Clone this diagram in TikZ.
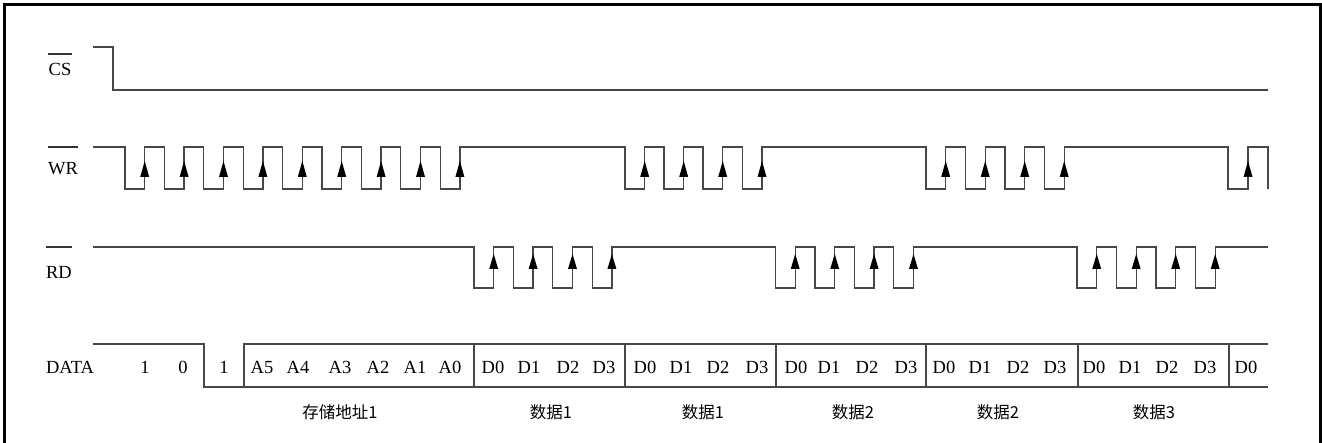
\documentclass[tikz,border=0pt]{standalone}
\usepackage{fontspec}
\setmainfont{Liberation Serif}
\newfontfamily\cjk{Noto Sans CJK SC}
\begin{document}
\begin{tikzpicture}[x=1pt,y=-1pt,
  wave/.style={draw=black!72,line width=1.3pt,line join=miter},
  frame/.style={draw=black,line width=3pt,line join=miter},
  lbl/.style={inner sep=0pt,font=\fontsize{18.5}{20}\selectfont},
  sig/.style={inner sep=0pt,font=\fontsize{18.5}{20}\selectfont},
  cn/.style={inner sep=0pt,font=\cjk\fontsize{16.5}{18}\selectfont},
  ovl/.style={draw=black!80,line width=1.1pt},
  tipfill/.style={fill=black}]
\useasboundingbox (0,0) rectangle (1322,443);
\fill[white] (0,0) rectangle (1322,443);
% frame
\draw[frame] (4,445) -- (4,5) -- (1320,5) -- (1320,445);

% signal names
\node[sig] (cs) at (60,69) {CS};
\node[sig] (wr) at (63,169) {WR};
\node[sig] (rd) at (59,272) {RD};
\node[sig] (data) at (70,367) {DATA};
\draw[ovl] (cs.west |- 0,54) -- (cs.east |- 0,54);
\draw[ovl] (wr.west |- 0,147) -- (wr.east |- 0,147);
\draw[ovl] (rd.west |- 0,247) -- (rd.east |- 0,247);

% CS
\draw[wave] (93,47) -- (113,47) -- (113,90) -- (1268,90);

% WR
\draw[wave] (93,147)
  foreach \f in {125,164.4,203.8,243.2,282.6,322,361.4,400.8,440.2}
    { -- (\f,147) -- (\f,189) -- (\f+19.7,189) -- (\f+19.7,147) }
  foreach \f in {625,664,703,742.3}
    { -- (\f,147) -- (\f,189) -- (\f+19.7,189) -- (\f+19.7,147) }
  foreach \f in {926,965.5,1005,1044.5}
    { -- (\f,147) -- (\f,189) -- (\f+19.7,189) -- (\f+19.7,147) }
  -- (1228,147) -- (1228,189) -- (1248,189) -- (1248,147) -- (1268,147) -- (1268,189);
\foreach \r in {144.7,184.1,223.5,262.9,302.3,341.7,381.1,420.5,459.9,
                644.7,683.7,722.7,762,945.7,985.2,1024.7,1064.2,1248}
  \fill[tipfill] (\r-4.5,177) -- (\r,161) -- (\r+4.5,177) -- cycle;

% RD
\draw[wave] (93,247)
  foreach \f in {474,513.4,552.8,592.2}
    { -- (\f,247) -- (\f,288) -- (\f+19.7,288) -- (\f+19.7,247) }
  foreach \f in {775.5,815,854.4,893.8}
    { -- (\f,247) -- (\f,288) -- (\f+19.7,288) -- (\f+19.7,247) }
  foreach \f in {1077,1116.5,1156,1195.5}
    { -- (\f,247) -- (\f,288) -- (\f+19.7,288) -- (\f+19.7,247) }
  -- (1268,247);
\foreach \r in {493.7,533.1,572.5,611.9,795.2,834.7,874.1,913.5,1096.7,1136.2,1175.7,1215.2}
  \fill[tipfill] (\r-4.5,269) -- (\r,254) -- (\r+4.5,269) -- cycle;

% DATA
\draw[wave] (93,344) -- (204,344) -- (204,387) -- (244,387) -- (244,344) -- (1268,344);
\draw[wave] (244,387) -- (1268,387);
\foreach \x in {474,625,776,926,1078,1229}
  \draw[wave] (\x,344) -- (\x,387);

\foreach \t/\x [count=\i] in {1/145,0/183,1/224,A5/262,A4/298,A3/340,A2/378,A1/415,A0/450,
   D0/493,D1/529,D2/568,D3/604,D0/645,D1/681,D2/718,D3/757,
   D0/796,D1/829,D2/867,D3/906,D0/944,D1/980,D2/1018,D3/1055,
   D0/1094,D1/1130,D2/1167,D3/1205,D0/1246}
  \node[lbl] (b\i) at (\x,367) {\t};

\node[cn] (g1) at (340,412) {存储地址1};
\node[cn] (g2) at (551,412) {数据1};
\node[cn] (g3) at (703,412) {数据1};
\node[cn] (g4) at (853,412) {数据2};
\node[cn] (g5) at (998,412) {数据2};
\node[cn] (g6) at (1154,412) {数据3};
\end{tikzpicture}
\end{document}
